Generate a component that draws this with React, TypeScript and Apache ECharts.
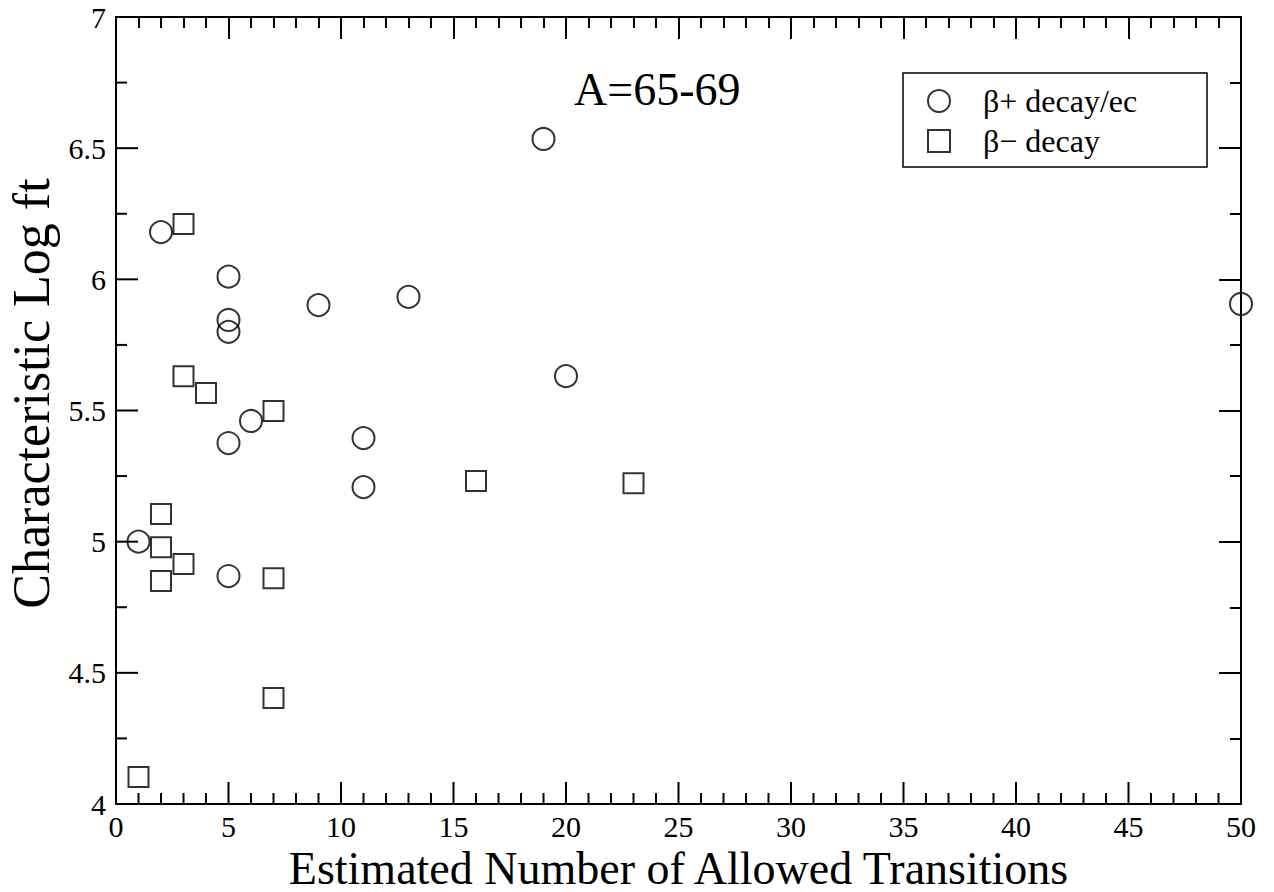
import React, { useEffect, useRef } from "react";
import * as echarts from "echarts";

const betaPlusX = [1, 2, 5, 5, 5, 5, 5, 6, 9, 11, 11, 13, 19, 20, 50];
const betaPlusY = [5.0, 6.18, 6.01, 5.845, 5.8, 5.376, 4.869, 5.46, 5.902, 5.395, 5.208, 5.933, 6.535, 5.631, 5.906];
const betaMinusX = [1, 2, 2, 2, 3, 3, 3, 4, 7, 7, 7, 16, 23];
const betaMinusY = [4.103, 5.105, 4.979, 4.85, 6.211, 5.631, 4.915, 5.567, 5.498, 4.861, 4.404, 5.231, 5.223];
const seriesNames = ["β+ decay/ec", "β− decay"];
const titleText = "A=65-69";
const xName = "Estimated Number of Allowed Transitions";
const yName = "Characteristic Log ft";

const X_MIN = 0, X_MAX = 50, X_MAJOR = 5, X_MINOR = 1;
const Y_MIN = 4, Y_MAX = 7, Y_MAJOR = 0.5, Y_MINOR = 0.25;

const FONT = "'Liberation Serif', 'DejaVu Serif', serif";
const GRID_W = 1125;
const GRID_H = 787;
const MAJOR_LEN = 22;
const MINOR_LEN = 11;

function tickList(min: number, max: number, minor: number, major: number) {
  const out: number[][] = [];
  const n = Math.round((max - min) / minor);
  for (let i = 0; i <= n; i++) {
    const v = min + i * minor;
    const isMajor = Math.abs(v / major - Math.round(v / major)) < 1e-6;
    out.push([v, isMajor ? MAJOR_LEN : MINOR_LEN]);
  }
  return out;
}

export default function App() {
  const ref = useRef<HTMLDivElement>(null);
  useEffect(() => {
    if (!ref.current) return;
    const chart = echarts.init(ref.current, undefined, { renderer: "svg" });
    const lineStyle = { color: "#000", width: 2 };
    const tickAxis = (split: number) => ({
      axisLine: { show: true, onZero: false, lineStyle },
      axisTick: { show: true, inside: true, length: MAJOR_LEN, lineStyle },
      minorTick: { show: true, splitNumber: split, length: MINOR_LEN, lineStyle },
      axisLabel: { show: false },
      splitLine: { show: false },
      minorSplitLine: { show: false },
    });
    const noTicks = {
      axisLine: { show: true, onZero: false, lineStyle },
      axisTick: { show: false },
      minorTick: { show: false },
      splitLine: { show: false },
      minorSplitLine: { show: false },
    };
    const xRange = { type: "value" as const, min: X_MIN, max: X_MAX, interval: X_MAJOR };
    const yRange = { type: "value" as const, min: Y_MIN, max: Y_MAX, interval: Y_MAJOR };

    const xTicks = tickList(X_MIN, X_MAX, X_MINOR, X_MAJOR);
    const yTicks = tickList(Y_MIN, Y_MAX, Y_MINOR, Y_MAJOR);

    chart.setOption({
      animation: false,
      backgroundColor: "#fff",
      title: {
        text: titleText,
        left: 574,
        top: 66,
        padding: 0,
        textStyle: { fontFamily: FONT, fontSize: 46, fontWeight: "normal", color: "#000" },
      },
      grid: {
        left: 116,
        top: 17,
        width: GRID_W,
        height: GRID_H,
        containLabel: false,
        outerBoundsMode: "none",
      },
      legend: {
        orient: "vertical",
        left: 927,
        top: 85,
        padding: 0,
        itemWidth: 22,
        itemHeight: 22,
        itemGap: 8,
        textStyle: { fontFamily: FONT, fontSize: 32, color: "#000", lineHeight: 32, padding: [0, 0, 0, 28] },
        data: seriesNames,
      },
      graphic: [
        {
          type: "rect",
          shape: { x: 903, y: 73, width: 304, height: 94 },
          style: { fill: "none", stroke: "#000", lineWidth: 1.5 },
          z: 0,
        },
      ],
      xAxis: [
        {
          ...xRange,
          ...noTicks,
          position: "bottom",
          name: xName,
          nameLocation: "middle",
          nameGap: 35,
          nameTextStyle: { fontFamily: FONT, fontSize: 46, lineHeight: 40, color: "#000" },
          axisLabel: { fontFamily: FONT, fontSize: 30, color: "#000", margin: 7 },
        },
        { ...xRange, ...tickAxis(5), position: "top" },
      ],
      yAxis: [
        {
          ...yRange,
          ...noTicks,
          position: "left",
          name: yName,
          nameLocation: "middle",
          nameGap: 62,
          nameRotate: 90,
          nameTextStyle: {
            fontFamily: FONT,
            fontSize: 52,
            lineHeight: 46,
            color: "#000",
            padding: [0, 0, 0, 34],
          },
          axisLabel: { fontFamily: FONT, fontSize: 30, color: "#000", margin: 10 },
        },
        { ...yRange, ...tickAxis(2), position: "right" },
      ],
      series: [
        {
          name: seriesNames[0],
          type: "scatter",
          symbol: "circle",
          symbolSize: 22,
          itemStyle: { color: "rgba(255,255,255,0)", borderColor: "#000", borderWidth: 2 },
          data: betaPlusX.map((x, i) => [x, betaPlusY[i]]),
          z: 3,
        },
        {
          name: seriesNames[1],
          type: "scatter",
          symbol: "rect",
          symbolSize: 20,
          itemStyle: { color: "rgba(255,255,255,0)", borderColor: "#000", borderWidth: 2 },
          data: betaMinusX.map((x, i) => [x, betaMinusY[i]]),
          z: 3,
        },
        {
          name: "bottomTicks",
          type: "custom",
          silent: true,
          clip: false,
          xAxisIndex: 0,
          yAxisIndex: 0,
          data: xTicks.map((t) => [t[0], Y_MIN, t[1]]),
          renderItem: (params: any, api: any) => {
            const p = api.coord([api.value(0), Y_MIN]);
            const len = api.value(2);
            return {
              type: "line",
              shape: { x1: p[0], y1: p[1], x2: p[0], y2: p[1] - len },
              style: { stroke: "#000", lineWidth: 2 },
            };
          },
          z: 4,
        },
        {
          name: "leftTicks",
          type: "custom",
          silent: true,
          clip: false,
          xAxisIndex: 0,
          yAxisIndex: 0,
          data: yTicks.map((t) => [X_MIN, t[0], t[1]]),
          renderItem: (params: any, api: any) => {
            const p = api.coord([X_MIN, api.value(1)]);
            const len = api.value(2);
            return {
              type: "line",
              shape: { x1: p[0], y1: p[1], x2: p[0] + len, y2: p[1] },
              style: { stroke: "#000", lineWidth: 2 },
            };
          },
          z: 4,
        },
      ],
    });
    return () => chart.dispose();
  }, []);
  return (
    <div
      ref={ref}
      style={{ position: "fixed", left: 0, top: 0, width: 1274, height: 892 }}
    />
  );
}
